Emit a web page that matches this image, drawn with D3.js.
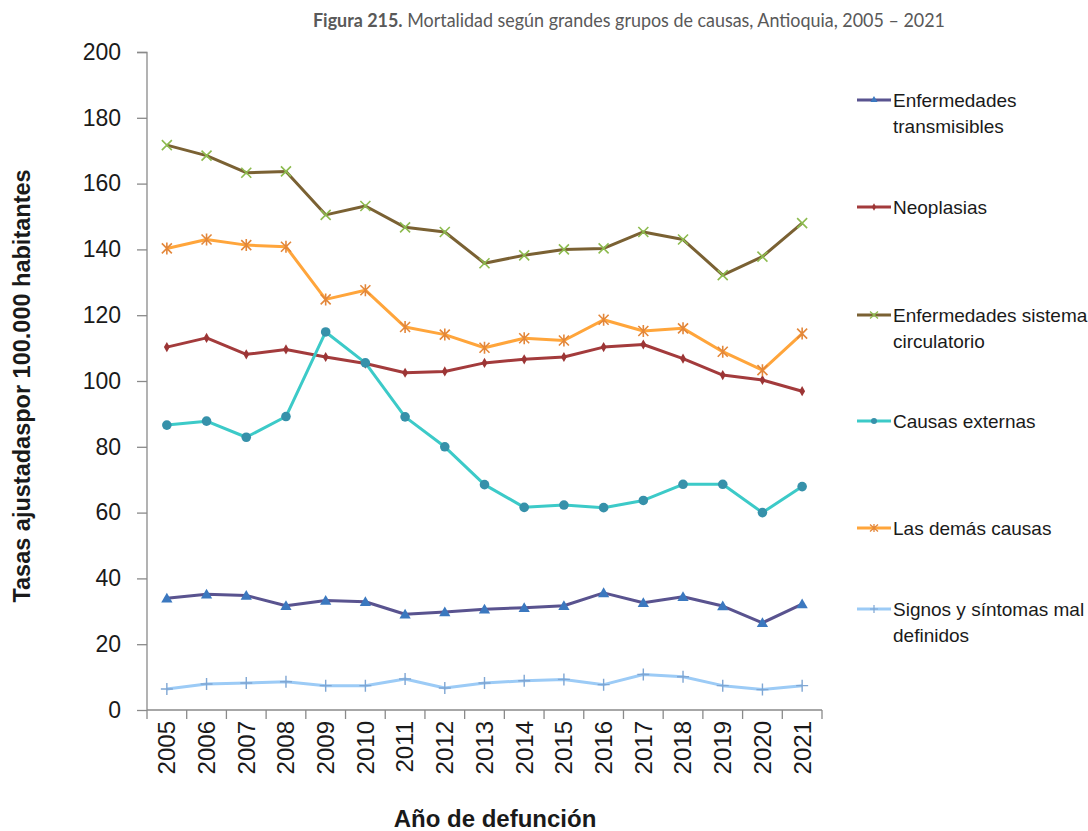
<!DOCTYPE html>
<html><head><meta charset="utf-8">
<script src="https://cdn.jsdelivr.net/npm/d3@7"></script>
<style>body{margin:0;background:#fff}svg{display:block}</style>
</head><body>
<svg id="c" width="1088" height="831"></svg>
<script>
const years = ["2005","2006","2007","2008","2009","2010","2011","2012","2013","2014","2015","2016","2017","2018","2019","2020","2021"];
const yTicks = [0,20,40,60,80,100,120,140,160,180,200];
const transmisibles = [34.0,35.2,34.8,31.7,33.3,32.9,29.1,29.8,30.6,31.1,31.7,35.6,32.6,34.4,31.6,26.5,32.2];
const neoplasias = [110.3,113.1,108.1,109.6,107.3,105.3,102.5,102.9,105.5,106.6,107.3,110.3,111.1,106.8,101.8,100.3,96.9];
const circulatorio = [171.7,168.5,163.3,163.7,150.5,153.2,146.7,145.3,135.8,138.2,140.0,140.3,145.3,143.0,132.2,137.8,148.0];
const externas = [86.6,87.8,82.9,89.2,114.9,105.5,89.1,80.0,68.5,61.6,62.3,61.5,63.7,68.6,68.6,60.0,67.9];
const demas = [140.3,143.0,141.3,140.8,124.8,127.6,116.4,114.1,110.1,113.0,112.3,118.6,115.2,116.0,108.9,103.3,114.4];
const signos = [6.4,7.9,8.2,8.6,7.4,7.4,9.4,6.7,8.2,8.9,9.3,7.7,10.8,10.1,7.4,6.2,7.4];
const seriesNames = [["Enfermedades","transmisibles"],["Neoplasias"],["Enfermedades sistema","circulatorio"],["Causas externas"],["Las demás causas"],["Signos y síntomas mal","definidos"]];

const series = [
  {name:seriesNames[0], values:transmisibles, line:"#59538f", mark:"#3b78bf", sym:"tri"},
  {name:seriesNames[1], values:neoplasias, line:"#a33b3c", mark:"#9c3535", sym:"dia"},
  {name:seriesNames[2], values:circulatorio, line:"#7a6133", mark:"#8dbb4f", sym:"x"},
  {name:seriesNames[3], values:externas, line:"#3ccac8", mark:"#3691aa", sym:"circ"},
  {name:seriesNames[4], values:demas, line:"#ffa53b", mark:"#e3873a", sym:"ast"},
  {name:seriesNames[5], values:signos, line:"#9ccbf6", mark:"#7fa6d3", sym:"plus"}
];
const legendY = [100,207,315,421,528,609];

const svg = d3.select("#c");
const x = d3.scaleBand().domain(years).range([147,822]).padding(0);
const y = d3.scaleLinear().domain([0,200]).range([710,52]);
const cx = d => x(d) + x.bandwidth()/2;
const axisColor = "#8a8a8a";

// title
const t = svg.append("text").attr("x",629).attr("y",27).attr("text-anchor","middle")
  .style("font-family","Lato, 'Open Sans', sans-serif").style("font-size","18.5px").attr("fill","#595959")
  .attr("textLength",632).attr("lengthAdjust","spacingAndGlyphs");
t.append("tspan").style("font-weight","bold").text("Figura 215.");
t.append("tspan").text(" Mortalidad según grandes grupos de causas, Antioquia, 2005 – 2021");

// y axis
const yAxis = svg.append("g").attr("transform","translate(147,0)")
  .call(d3.axisLeft(y).tickValues(yTicks).tickSize(10).tickPadding(16));
yAxis.selectAll("path,line").attr("stroke",axisColor).attr("stroke-width",1.3);
yAxis.select(".domain").attr("d","M-10,52.5H0V710");
yAxis.selectAll("text").style("font-family","'Liberation Sans', Arial, sans-serif").style("font-size","23px").attr("fill","#1a1a1a");

// x axis
const xAxis = svg.append("g").attr("transform","translate(0,710)")
  .call(d3.axisBottom(x).tickSize(0).tickPadding(0));
xAxis.select(".domain").attr("stroke",axisColor).attr("stroke-width",1.3).attr("d","M147,0H822");
xAxis.selectAll(".tick line").remove();
const bounds = years.map(d => x(d)).concat([x(years[years.length-1]) + x.bandwidth()]);
xAxis.selectAll(".bt").data(bounds).enter().append("line")
  .attr("x1",d=>d).attr("x2",d=>d).attr("y1",0).attr("y2",9).attr("stroke",axisColor).attr("stroke-width",1.3);
xAxis.selectAll(".tick text").attr("transform","rotate(-90)").attr("text-anchor","end")
  .attr("x",-11).attr("y",0).attr("dy","0.35em")
  .style("font-family","'Liberation Sans', Arial, sans-serif").style("font-size","24px").attr("fill","#1a1a1a");

// axis titles
svg.append("text").attr("transform","translate(30,386) rotate(-90)").attr("text-anchor","middle")
  .style("font-family","'Liberation Sans', Arial, sans-serif").style("font-size","23.5px").style("font-weight","bold")
  .attr("fill","#1a1a1a").text("Tasas ajustadaspor 100.000 habitantes");
svg.append("text").attr("x",495).attr("y",827).attr("text-anchor","middle")
  .style("font-family","'Liberation Sans', Arial, sans-serif").style("font-size","24px").style("font-weight","bold")
  .attr("fill","#1a1a1a").text("Año de defunción");

function drawMarker(g, sym, color, px, py) {
  if (sym==="tri") g.append("path").attr("d", d3.symbol(d3.symbolTriangle, 55)()).attr("transform",`translate(${px},${py+1})`).attr("fill",color);
  else if (sym==="dia") g.append("path").attr("d", d3.symbol(d3.symbolDiamond, 30)()).attr("transform",`translate(${px},${py})`).attr("fill",color);
  else if (sym==="circ") g.append("circle").attr("cx",px).attr("cy",py).attr("r",4.8).attr("fill",color);
  else if (sym==="x") g.append("path").attr("d",`M${px-5},${py-5}L${px+5},${py+5}M${px-5},${py+5}L${px+5},${py-5}`).attr("stroke",color).attr("stroke-width",1.6);
  else if (sym==="ast") g.append("path").attr("d",`M${px-5},${py-5}L${px+5},${py+5}M${px-5},${py+5}L${px+5},${py-5}M${px},${py-6}L${px},${py+6}`).attr("stroke",color).attr("stroke-width",1.6);
  else if (sym==="plus") g.append("path").attr("d",`M${px-6},${py}L${px+6},${py}M${px},${py-6}L${px},${py+6}`).attr("stroke",color).attr("stroke-width",1.4);
}

const line = d3.line().x((d,i)=>cx(years[i])).y(d=>y(d));
const plot = svg.append("g");
series.forEach(s => {
  plot.append("path").datum(s.values).attr("d",line).attr("fill","none").attr("stroke",s.line).attr("stroke-width",3).attr("stroke-linejoin","round");
  const mg = plot.append("g");
  s.values.forEach((v,i)=>drawMarker(mg, s.sym, s.mark, cx(years[i]), y(v)));
});

// legend
const lg = svg.append("g");
series.forEach((s,k) => {
  const ly = legendY[k];
  lg.append("line").attr("x1",857).attr("x2",891).attr("y1",ly).attr("y2",ly).attr("stroke",s.line).attr("stroke-width",3);
  const mg = lg.append("g");
  if (s.sym==="tri") mg.append("path").attr("d", d3.symbol(d3.symbolTriangle, 22)()).attr("transform",`translate(874,${ly})`).attr("fill",s.mark);
  else if (s.sym==="dia") mg.append("path").attr("d", d3.symbol(d3.symbolDiamond, 16)()).attr("transform",`translate(874,${ly})`).attr("fill",s.mark);
  else if (s.sym==="circ") mg.append("circle").attr("cx",874).attr("cy",ly).attr("r",3).attr("fill",s.mark);
  else if (s.sym==="x") mg.append("path").attr("d",`M870,${ly-3.5}L878,${ly+3.5}M870,${ly+3.5}L878,${ly-3.5}`).attr("stroke",s.mark).attr("stroke-width",1.3);
  else if (s.sym==="ast") mg.append("path").attr("d",`M870,${ly-3.5}L878,${ly+3.5}M870,${ly+3.5}L878,${ly-3.5}M874,${ly-4}L874,${ly+4}`).attr("stroke",s.mark).attr("stroke-width",1.3);
  else if (s.sym==="plus") mg.append("path").attr("d",`M870,${ly}L878,${ly}M874,${ly-4}L874,${ly+4}`).attr("stroke",s.mark).attr("stroke-width",1.2);
  const tx = lg.append("text").attr("x",893).attr("y",ly).style("font-family","'Liberation Sans', Arial, sans-serif")
    .style("font-size","19px").attr("fill","#1a1a1a");
  s.name.forEach((n,j)=>tx.append("tspan").attr("x",893).attr("y",ly + 7 + j*25.5).text(n));
});
</script>
</body></html>
